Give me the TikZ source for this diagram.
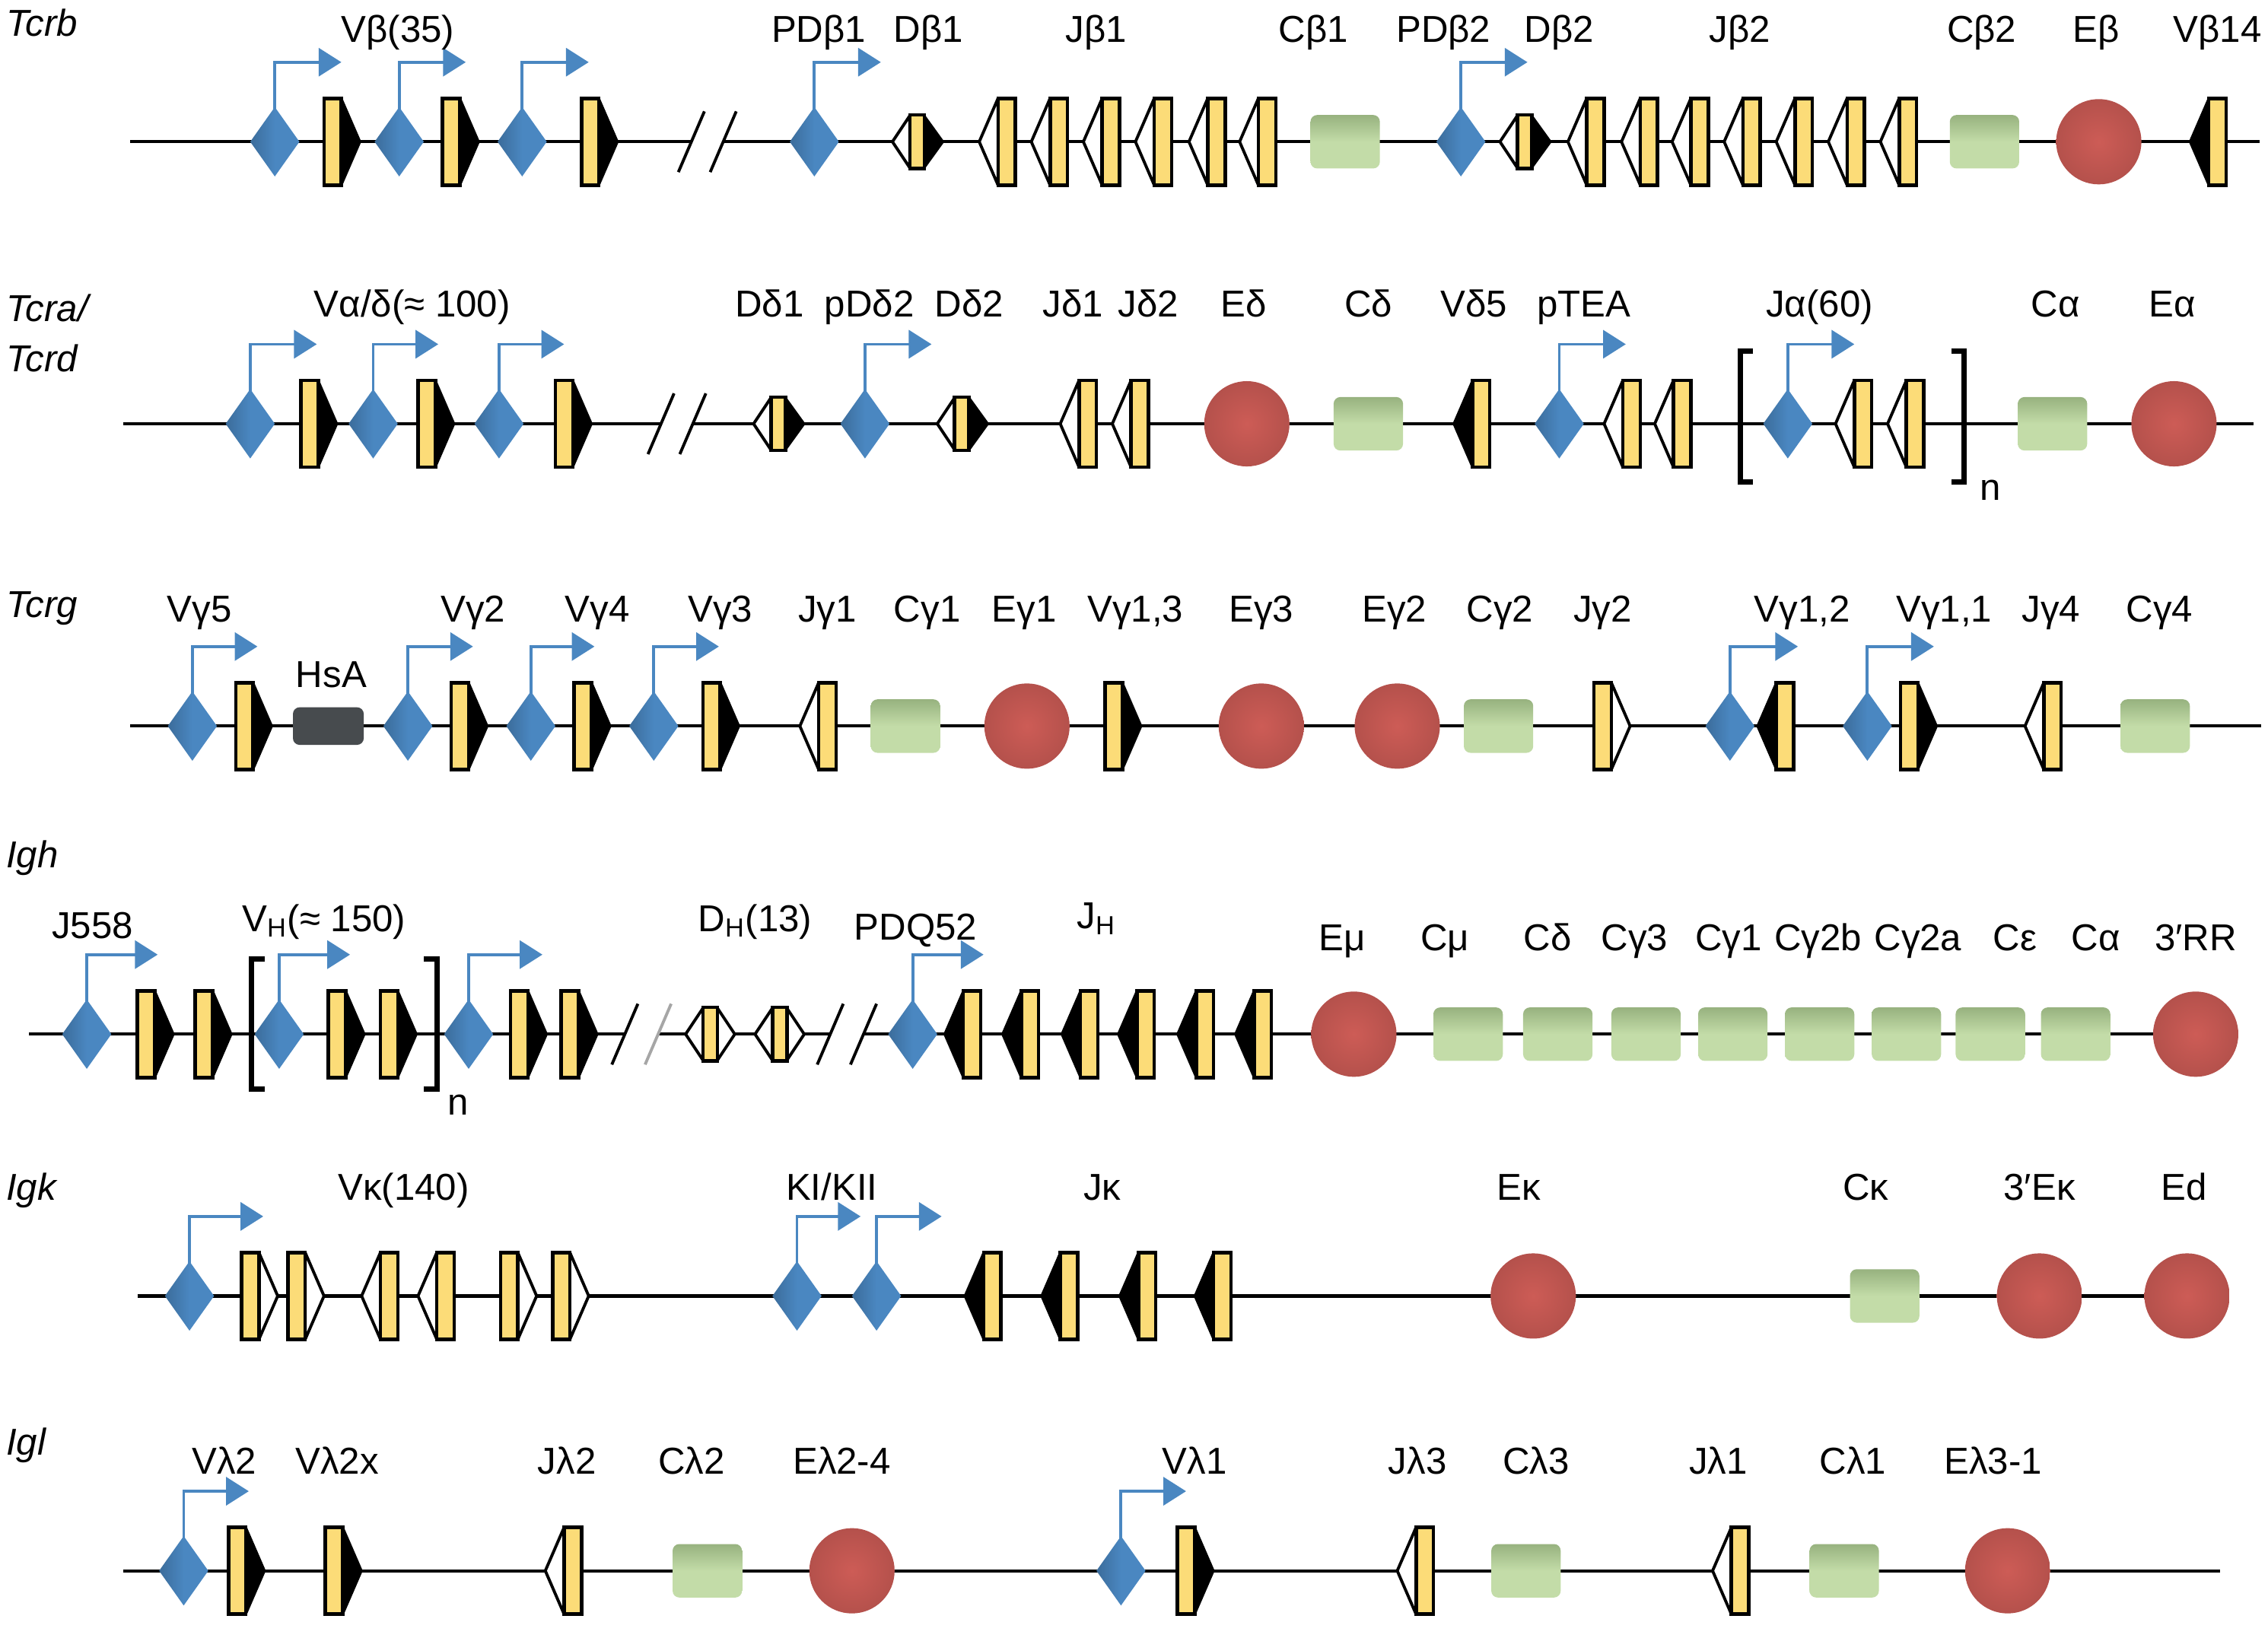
\documentclass[tikz,border=0pt]{standalone}
\usepackage{fontspec}
\setmainfont{Liberation Sans}
\usetikzlibrary{arrows.meta,shapes.geometric}
\definecolor{segy}{HTML}{FCDC78}
\definecolor{pblue}{HTML}{4A87C1}
\definecolor{cgreen}{HTML}{C3DCA8}
\definecolor{cgreend}{HTML}{97B27F}
\definecolor{ered}{HTML}{CD5C56}
\definecolor{hsag}{HTML}{474B4E}
\newdimen\du \du=0.5406pt
\pgfdeclarelayer{bg}\pgfsetlayers{bg,main}
\tikzset{
 seg/.style={draw=black, line width=1.3pt, fill=segy, minimum width=12\du, minimum height=60\du, inner sep=0pt, outer sep=0pt},
 dseg/.style={seg, minimum width=10\du, minimum height=37\du},
 rssb/.style={fill=black, draw=black, line width=0.8pt, line join=bevel},
 rssw/.style={fill=white, draw=black, line width=1.1pt, line join=bevel},
 prm/.style={diamond, left color=pblue!80!black, right color=pblue, middle color=pblue, minimum width=34\du, minimum height=48\du, inner sep=0pt, outer sep=0pt},
 parr/.style={draw=pblue, line width=1.1pt, -{Triangle[length=8.5pt,width=10.5pt]}},
 cbox/.style={rectangle, rounded corners=2.5pt, top color=cgreend, bottom color=cgreen, middle color=cgreen, minimum width=48\du, minimum height=37\du, inner sep=0pt},
 hbox/.style={rectangle, rounded corners=2.5pt, fill=hsag, minimum width=49\du, minimum height=26\du, inner sep=0pt},
 enh/.style={circle, inner color=ered, outer color=ered!88!black, minimum size=59\du, inner sep=0pt},
 dna/.style={draw=black, line width=1.2pt},
 brk/.style={draw=black, line width=1.1pt},
 brkg/.style={draw=gray!70, line width=1.1pt},
 brac/.style={draw=black, line width=2pt, line cap=butt, line join=miter},
 lbl/.style={font=\fontsize{14}{16}\selectfont, anchor=base, inner sep=0pt},
 rlbl/.style={font=\fontsize{14}{16}\selectfont\itshape, anchor=base west, inner sep=0pt}
}
% gene segment macros: name, x, y
\newcommand\GV[3]{\filldraw[rssb] (#2+6,#3-30) -- (#2+19,#3) -- (#2+6,#3+30) -- cycle; \node[seg] (#1) at (#2,#3) {};}
\newcommand\GVl[3]{\filldraw[rssb] (#2-6,#3-30) -- (#2-19,#3) -- (#2-6,#3+30) -- cycle; \node[seg] (#1) at (#2,#3) {};}
\newcommand\GJ[3]{\filldraw[rssw] (#2-6,#3-30) -- (#2-19,#3) -- (#2-6,#3+30) -- cycle; \node[seg] (#1) at (#2,#3) {};}
\newcommand\GJr[3]{\filldraw[rssw] (#2+6,#3-30) -- (#2+19,#3) -- (#2+6,#3+30) -- cycle; \node[seg] (#1) at (#2,#3) {};}
\newcommand\GD[3]{\filldraw[rssw] (#2-5,#3-18) -- (#2-17,#3) -- (#2-5,#3+18) -- cycle; \filldraw[rssb] (#2+5,#3-18) -- (#2+18,#3) -- (#2+5,#3+18) -- cycle; \node[dseg] (#1) at (#2,#3) {};}
\newcommand\GDw[3]{\filldraw[rssw] (#2-5,#3-18) -- (#2-17,#3) -- (#2-5,#3+18) -- cycle; \filldraw[rssw] (#2+5,#3-18) -- (#2+17,#3) -- (#2+5,#3+18) -- cycle; \node[dseg] (#1) at (#2,#3) {};}
% promoter: name, x, y, tip x
\newcommand\GP[4]{\coordinate (#1t) at (#4,#3-55); \draw[parr] (#2,#3-20) |- (#1t); \node[prm] (#1) at (#2,#3) {};}
\newcommand\GC[3]{\node[cbox] (#1) at (#2,#3) {};}
\newcommand\GE[3]{\node[enh] (#1) at (#2,#3) {};}
\newcommand\GL[4]{\node[lbl] (#1) at (#2,#3) {#4};}
% break slash: [style] x, y
\newcommand\Slash[3][brk]{\draw[#1] (#2-9,#3+21) -- (#2+9,#3-21);}
\begin{document}
\begin{tikzpicture}[x=0.01901cm,y=-0.01901cm]
\useasboundingbox (0,0) rectangle (1568,1132);

% ---------------- row labels
\node[rlbl] (tcrb) at (4,25) {Tcrb};
\node[rlbl] (tcra) at (4,222) {Tcra/};
\node[rlbl] (tcrd) at (4,257) {Tcrd};
\node[rlbl] (tcrg) at (4,427) {Tcrg};
\node[rlbl] (igh) at (4,600) {Igh};
\node[rlbl] (igk) at (4,830) {Igk};
\node[rlbl] (igl) at (4,1006) {Igl};

% ================= Row 1 Tcrb (y=98)
\coordinate (r1s) at (90,98); \coordinate (r1e) at (1562,98);
\coordinate (b1a) at (478,98); \coordinate (b1b) at (500,98);
\Slash{478}{98} \Slash{500}{98}
\GP{p11}{190}{98}{236} \GV{v11}{230}{98}
\GP{p12}{276}{98}{322} \GV{v12}{312}{98}
\GP{p13}{361}{98}{407} \GV{v13}{408}{98}
\GP{p14}{563}{98}{609}
\GD{d11}{634}{98}
\GJ{j11}{696}{98} \GJ{j12}{732}{98} \GJ{j13}{768}{98} \GJ{j14}{804}{98} \GJ{j15}{841}{98} \GJ{j16}{876}{98}
\GC{c11}{930}{98}
\GP{p15}{1010}{98}{1056}
\GD{d12}{1054}{98}
\GJ{j17}{1103}{98} \GJ{j18}{1140}{98} \GJ{j19}{1175}{98} \GJ{j1a}{1211}{98} \GJ{j1b}{1247}{98} \GJ{j1c}{1283}{98} \GJ{j1d}{1319}{98}
\GC{c12}{1372}{98}
\GE{e11}{1451}{98}
\GVl{v14}{1533}{98}
\GL{l11}{275}{29}{Vβ(35)}
\GL{l12}{566}{29}{PDβ1}
\GL{l13}{642}{29}{Dβ1}
\GL{l14}{758}{29}{Jβ1}
\GL{l15}{908}{29}{Cβ1}
\GL{l16}{998}{29}{PDβ2}
\GL{l17}{1078}{29}{Dβ2}
\GL{l18}{1203}{29}{Jβ2}
\GL{l19}{1370}{29}{Cβ2}
\GL{l1a}{1449}{29}{Eβ}
\GL{l1b}{1533}{29}{Vβ14}

% ================= Row 2 Tcra/Tcrd (y=293)
\coordinate (r2s) at (85,293); \coordinate (r2e) at (1558,293);
\coordinate (b2a) at (457,293); \coordinate (b2b) at (479,293);
\Slash{457}{293} \Slash{479}{293}
\GP{p21}{173}{293}{219} \GV{v21}{214}{293}
\GP{p22}{258}{293}{303} \GV{v22}{295}{293}
\GP{p23}{345}{293}{390} \GV{v23}{390}{293}
\GD{d21}{538}{293}
\GP{p24}{598}{293}{644}
\GD{d22}{665}{293}
\GJ{j21}{752}{293} \GJ{j22}{788}{293}
\GE{e21}{862}{293}
\GC{c21}{946}{293}
\GVl{v24}{1024}{293}
\GP{p25}{1078}{293}{1124}
\GJ{j23}{1128}{293} \GJ{j24}{1163}{293}
\draw[brac] (1212,243) -- (1203,243) -- (1203,333) -- (1212,333);
\GP{p26}{1236}{293}{1282}
\GJ{j25}{1288}{293} \GJ{j26}{1324}{293}
\draw[brac] (1349,243) -- (1358,243) -- (1358,333) -- (1349,333);
\node[lbl] (n2) at (1376,346) {n};
\GC{c22}{1419}{293}
\GE{e22}{1503}{293}
\GL{l21}{285}{219}{Vα/δ(≈ 100)}
\GL{l22}{532}{219}{Dδ1}
\GL{l23}{601}{219}{pDδ2}
\GL{l24}{670}{219}{Dδ2}
\GL{l25}{742}{219}{Jδ1}
\GL{l26}{794}{219}{Jδ2}
\GL{l27}{860}{219}{Eδ}
\GL{l28}{946}{219}{Cδ}
\GL{l29}{1019}{219}{Vδ5}
\GL{l2a}{1095}{219}{pTEA}
\GL{l2b}{1258}{219}{Jα(60)}
\GL{l2c}{1421}{219}{Cα}
\GL{l2d}{1502}{219}{Eα}

% ================= Row 3 Tcrg (y=502)
\coordinate (r3s) at (90,502); \coordinate (r3e) at (1563,502);
\GP{p31}{133}{502}{178} \GV{v31}{169}{502}
\node[hbox] (hsa) at (227,502) {};
\GP{p32}{282}{502}{327} \GV{v32}{318}{502}
\GP{p33}{367}{502}{411} \GV{v33}{403}{502}
\GP{p34}{452}{502}{497} \GV{v34}{492}{502}
\GJ{j31}{572}{502}
\GC{c31}{626}{502}
\GE{e31}{710}{502}
\GV{v35}{770}{502}
\GE{e32}{872}{502}
\GE{e33}{966}{502}
\GC{c32}{1036}{502}
\GJr{j32}{1108}{502}
\GP{p35}{1196}{502}{1243} \GVl{v36}{1234}{502}
\GP{p36}{1291}{502}{1337} \GV{v37}{1320}{502}
\GJ{j33}{1419}{502}
\GC{c33}{1490}{502}
\GL{l31}{138}{430}{Vγ5}
\GL{lhs}{229}{475}{HsA}
\GL{l32}{327}{430}{Vγ2}
\GL{l33}{413}{430}{Vγ4}
\GL{l34}{498}{430}{Vγ3}
\GL{l35}{572}{430}{Jγ1}
\GL{l36}{641}{430}{Cγ1}
\GL{l37}{708}{430}{Eγ1}
\GL{l38}{785}{430}{Vγ1,3}
\GL{l39}{872}{430}{Eγ3}
\GL{l3a}{964}{430}{Eγ2}
\GL{l3b}{1037}{430}{Cγ2}
\GL{l3c}{1108}{430}{Jγ2}
\GL{l3d}{1246}{430}{Vγ1,2}
\GL{l3e}{1344}{430}{Vγ1,1}
\GL{l3f}{1418}{430}{Jγ4}
\GL{l3g}{1493}{430}{Cγ4}

% ================= Row 4 Igh (y=715)
\coordinate (r4s) at (20,715); \coordinate (r4e) at (1518,715);
\coordinate (b4a) at (432,715); \coordinate (b4b) at (455,715);
\coordinate (b4c) at (574,715); \coordinate (b4d) at (597,715);
\Slash{432}{715} \Slash[brkg]{455}{715}
\Slash{574}{715} \Slash{597}{715}
\GP{p41}{60}{715}{109} \GV{v41}{101}{715} \GV{v42}{141}{715}
\draw[brac] (183,663) -- (174,663) -- (174,753) -- (183,753);
\GP{p42}{193}{715}{242} \GV{v43}{233}{715} \GV{v44}{269}{715}
\draw[brac] (293,663) -- (302,663) -- (302,753) -- (293,753);
\node[lbl] (n4) at (317,771) {n};
\GP{p43}{324}{715}{375} \GV{v45}{359}{715} \GV{v46}{394}{715}
\GDw{d41}{491}{715} \GDw{d42}{539}{715}
\GP{p44}{631}{715}{680}
\GVl{j41}{672}{715} \GVl{j42}{712}{715} \GVl{j43}{753}{715} \GVl{j44}{792}{715} \GVl{j45}{833}{715} \GVl{j46}{873}{715}
\GE{e41}{936}{715}
\GC{c41}{1015}{715} \GC{c42}{1077}{715} \GC{c43}{1138}{715} \GC{c44}{1198}{715}
\GC{c45}{1258}{715} \GC{c46}{1318}{715} \GC{c47}{1376}{715} \GC{c48}{1435}{715}
\GE{e42}{1518}{715}
\GL{l41}{64}{649}{J558}
\GL{l42}{224}{644}{V\textsubscript{H}(≈ 150)}
\GL{l43}{522}{644}{D\textsubscript{H}(13)}
\GL{l44}{633}{650}{PDQ52}
\GL{l45}{758}{642}{J\textsubscript{H}}
\GL{l46}{928}{657}{Eμ}
\GL{l47}{999}{657}{Cμ}
\GL{l48}{1070}{657}{Cδ}
\GL{l49}{1130}{657}{Cγ3}
\GL{l4a}{1195}{657}{Cγ1}
\GL{l4b}{1257}{657}{Cγ2b}
\GL{l4c}{1326}{657}{Cγ2a}
\GL{l4d}{1393}{657}{Cε}
\GL{l4e}{1449}{657}{Cα}
\GL{l4f}{1518}{657}{3′RR}

% ================= Row 5 Igk (y=896)
\coordinate (r5s) at (95,896); \coordinate (r5e) at (1540,896);
\GP{p51}{131}{896}{182}
\GJr{v51}{173}{896} \GJr{v52}{205}{896}
\GJ{v53}{269}{896} \GJ{v54}{308}{896}
\GJr{v55}{352}{896} \GJr{v56}{388}{896}
\GP{p52}{551}{896}{595}
\GP{p53}{606}{896}{651}
\GVl{j51}{686}{896} \GVl{j52}{739}{896} \GVl{j53}{793}{896} \GVl{j54}{845}{896}
\GE{e51}{1060}{896}
\GC{c51}{1303}{896}
\GE{e52}{1410}{896}
\GE{e53}{1512}{896}
\GL{l51}{279}{830}{Vκ(140)}
\GL{l52}{575}{830}{KI/KII}
\GL{l53}{762}{830}{Jκ}
\GL{l54}{1050}{830}{Eκ}
\GL{l55}{1290}{830}{Cκ}
\GL{l56}{1410}{830}{3′Eκ}
\GL{l57}{1510}{830}{Ed}

% ================= Row 6 Igl (y=1086)
\coordinate (r6s) at (85,1086); \coordinate (r6e) at (1535,1086);
\GP{p61}{127}{1086}{172} \GV{v61}{164}{1086} \GV{v62}{231}{1086}
\GJ{j61}{396}{1086}
\GC{c61}{489}{1086}
\GE{e61}{589}{1086}
\GP{p62}{775}{1086}{820} \GV{v63}{820}{1086}
\GJ{j62}{985}{1086}
\GC{c62}{1055}{1086}
\GJ{j63}{1203}{1086}
\GC{c63}{1275}{1086}
\GE{e62}{1388}{1086}
\GL{l61}{155}{1019}{Vλ2}
\GL{l62}{233}{1019}{Vλ2x}
\GL{l63}{392}{1019}{Jλ2}
\GL{l64}{478}{1019}{Cλ2}
\GL{l65}{582}{1019}{Eλ2-4}
\GL{l66}{826}{1019}{Vλ1}
\GL{l67}{980}{1019}{Jλ3}
\GL{l68}{1062}{1019}{Cλ3}
\GL{l69}{1188}{1019}{Jλ1}
\GL{l6a}{1281}{1019}{Cλ1}
\GL{l6b}{1378}{1019}{Eλ3-1}

% ================= DNA lines
\begin{pgfonlayer}{bg}
\draw[dna] (r1s) -- (b1a); \draw[dna] (b1b) -- (r1e);
\draw[dna] (r2s) -- (b2a); \draw[dna] (b2b) -- (r2e);
\draw[dna] (r3s) -- (r3e);
\draw[dna] (r4s) -- (b4a); \draw[dna] (b4b) -- (b4c); \draw[dna] (b4d) -- (r4e);
\draw[dna] (r5s) -- (r5e);
\draw[dna] (r6s) -- (r6e);
\end{pgfonlayer}
\end{tikzpicture}
\end{document}
